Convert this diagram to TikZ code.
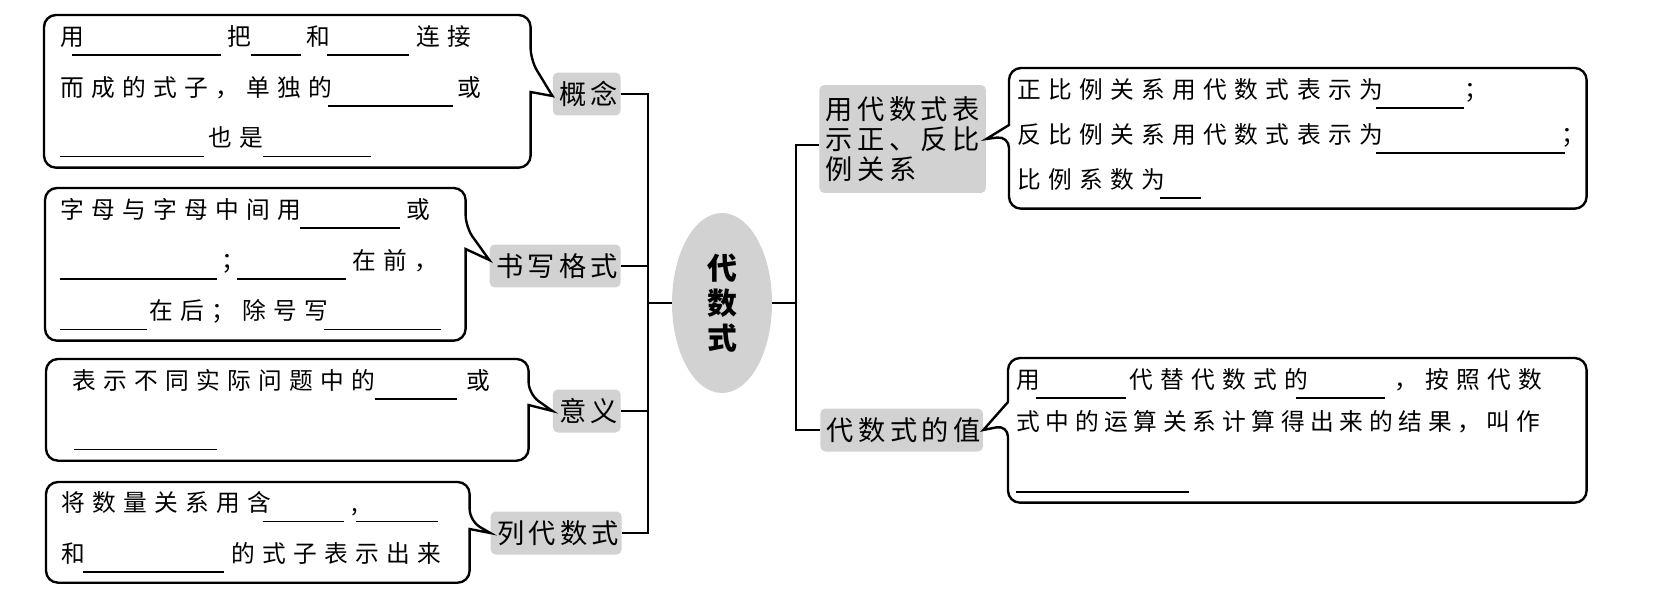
\documentclass[tikz,border=0pt]{standalone}
\usepackage{fontspec}
\setmainfont{Noto Sans CJK SC}
\newfontfamily\cjk{Noto Sans CJK SC}[LetterSpace=31]
\newfontfamily\cjkn{Noto Sans CJK SC}[LetterSpace=24]
\newfontfamily\cjkt{Noto Sans CJK SC}[LetterSpace=16]
\usetikzlibrary{calc,shapes.geometric}
\definecolor{tagfill}{RGB}{210,210,210}
\newdimen\upx \upx=0.2mm
\newcommand\bk[1]{\rule[-6pt]{#1\upx}{0.9pt}}
\newcommand\gp[1]{\hspace*{#1\upx}}

\begin{document}
\begin{tikzpicture}[x=0.02cm, y=-0.02cm,
  box/.style={inner xsep=0.3cm, inner ysep=0pt, align=left, anchor=north west, font=\cjk\fontsize{13.5}{28.8}\selectfont},
  callout/.style={draw, line width=1.35pt, rounded corners=0.24cm},
  tag/.style={fill=tagfill, rounded corners=0.1cm, inner xsep=0.13cm, inner ysep=0pt, minimum height=0.86cm, font=\cjkt\fontsize{15.5}{17}\selectfont},
  link/.style={line width=1.1pt}
]
  \useasboundingbox (0,0) rectangle (1655,615);

  % Centre
  \node[ellipse, fill=tagfill, minimum width=2cm, minimum height=3.6cm, inner sep=0pt, align=center, font=\bfseries\fontsize{17}{20}\selectfont] (ds) at (722,303) {代\\数\\式};

  % Left tags
  \node[tag, anchor=east] (gn) at (621,94) {概念\gp{-4}};
  \node[tag, anchor=east] (sx) at (621,266) {书写格式\gp{-4}};
  \node[tag, anchor=east] (yy) at (621,411) {意义\gp{-4}};
  \node[tag, anchor=east] (ld) at (622,533) {列代数式\gp{-4}};

  % Right tags
  \node[tag, anchor=west, align=left, minimum height=2.16cm] (zf) at (819,139) {用代数式表\gp{-4}\\示正、反比\gp{-4}\\例关系};
  \node[tag, anchor=west] (dz) at (820,430) {代数式的值\gp{-4}};

  % Left boxes
  \node[box, text width=9.08cm, minimum width=9.72cm, minimum height=3.04cm] (b1) at (44,15) {
    用\gp{-12}\bk{149}\gp{6}把\bk{50}\gp{6}和\gp{-3}\bk{82}\gp{7}连接\\
    而成的式子，单独的\gp{-5}\bk{125}\gp{5}或\\
    \bk{144}\gp{4}也是\bk{108}};
  \node[box, text width=7.8cm, minimum width=8.4cm, minimum height=3.04cm] (b2) at (45,188) {
    字母与字母中间用\gp{-2}\bk{100}\gp{7}或\\
    \bk{157}\gp{4}；\gp{-8}\bk{109}\gp{6}在前，\\
    \bk{87}\gp{2}在后；除号写\gp{-4}\bk{117}};
  \node[box, text width=9.04cm, minimum width=9.64cm, minimum height=2.02cm] (b3) at (46,359) {
    \gp{11}表示不同实际问题中的\gp{-1}\bk{82}\gp{10}或\\
    \gp{13}\bk{143}};
  \node[box, text width=7.86cm, minimum width=8.46cm, minimum height=2cm] (b4) at (46,482) {
    将数量关系用含\gp{-9}\bk{82}\gp{7},\gp{-2}\bk{82}\\
    和\gp{-2}\bk{141}\gp{7}的式子表示出来};

  % Right boxes
  \node[box, inner xsep=0.16cm, text width=11.22cm, minimum width=11.54cm, minimum height=2.8cm, font=\cjk\fontsize{13.5}{25.6}\selectfont] (r1) at (1009,68) {
    正比例关系用代数式表示为\gp{-7}\bk{88}\gp{1}；\\
    反比例关系用代数式表示为\gp{-7}\bk{189}\gp{-3}；\\
    比例系数为\gp{-5}\bk{41}};
  \node[box, inner xsep=0.16cm, text width=11.24cm, minimum width=11.56cm, minimum height=2.88cm, font=\cjk\fontsize{13.5}{23.9}\selectfont] (r2) at (1008,358) {
    用\gp{-4}\bk{90}\gp{3}代替代数式的\gp{-12}\bk{89}\gp{9}，按照代数\\
    {\cjkn 式中的运算关系计算得出来的结果，叫作}\\[0.2cm]
    \bk{173}};

  % Callout outlines
  \draw[callout] (b1.north west) -- (b1.north east) -- ($(b1.east |- gn.west)+(0,-34)$) [sharp corners] -- ($(gn.west)+(0,2)$) -- ($(b1.east |- gn.west)+(0,-2)$) [rounded corners=0.24cm] -- (b1.south east) -- (b1.south west) -- cycle;
  \draw[callout] (b2.north west) -- (b2.north east) -- ($(b2.east |- sx.west)+(0,-39)$) [sharp corners] -- ($(sx.west)+(0,-6)$) -- ($(b2.east |- sx.west)+(0,-17)$) [rounded corners=0.24cm] -- (b2.south east) -- (b2.south west) -- cycle;
  \draw[callout] (b3.north west) -- (b3.north east) -- ($(b3.east |- yy.west)+(0,-17)$) [sharp corners] -- (yy.west) -- ($(b3.east |- yy.west)+(0,-6)$) [rounded corners=0.24cm] -- (b3.south east) -- (b3.south west) -- cycle;
  \draw[callout] (b4.north west) -- (b4.north east) -- ($(b4.east |- ld.west)+(0,-12)$) [sharp corners] -- (ld.west) -- ($(b4.east |- ld.west)+(0,-4)$) [rounded corners=0.24cm] -- (b4.south east) -- (b4.south west) -- cycle;
  \draw[callout] (r1.north west) -- (r1.north east) -- (r1.south east) -- (r1.south west) -- ($(r1.west |- zf.east)+(0,-3)$) [sharp corners] -- (zf.east) -- ($(r1.west |- zf.east)+(0,-14)$) [rounded corners=0.24cm] -- cycle;
  \draw[callout] (r2.north west) -- (r2.north east) -- (r2.south east) -- (r2.south west) -- ($(r2.west |- dz.east)+(0,-5)$) [sharp corners] -- (dz.east) -- ($(r2.west |- dz.east)+(0,-28)$) [rounded corners=0.24cm] -- cycle;

  % Links
  \coordinate (lj) at (648,303);
  \coordinate (rj) at (796,303);
  \draw[link] (ds.west) -- (lj);
  \foreach \n in {gn,sx,yy,ld}
    \draw[link] (\n.east) -| (lj);
  \draw[link] (ds.east) -- (rj);
  \draw[link] (rj) |- ([yshift=-0.12cm]zf.west);
  \draw[link] (rj) |- (dz.west);
\end{tikzpicture}
\end{document}
